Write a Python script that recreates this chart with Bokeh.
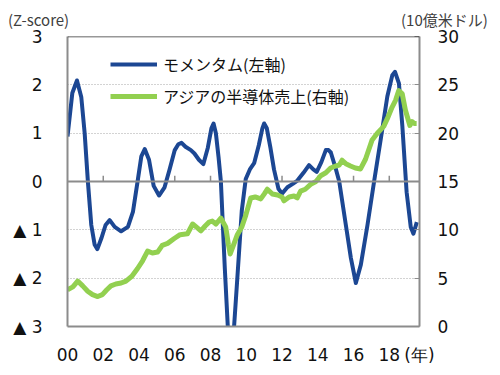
from bokeh.plotting import figure
from bokeh.models import Range1d, LinearAxis, FixedTicker, Span, Legend, LegendItem, Div
from bokeh.layouts import column
from bokeh.embed import file_html
from bokeh.resources import INLINE

# ---- data ----
years_tick = [2000, 2002, 2004, 2006, 2008, 2010, 2012, 2014, 2016, 2018]
year_labels = ["00", "02", "04", "06", "08", "10", "12", "14", "16", "18"]
x_end = 2019.69
x_unit_label = "(年)"
left_ticks = [-3, -2, -1, 0, 1, 2, 3]
left_labels = ["▲ 3", "▲ 2", "▲ 1", "0", "1", "2", "3"]
right_ticks = [0, 5, 10, 15, 20, 25, 30]
left_unit = "(Z-score)"
right_unit = "(10億米ドル)"

mom_x = [2000.0, 2000.27, 2000.53, 2000.77, 2000.96, 2001.14, 2001.33, 2001.52, 2001.67, 2001.89,
         2002.13, 2002.36, 2002.64, 2003.0, 2003.38, 2003.66, 2003.94, 2004.13, 2004.32, 2004.56,
         2004.82, 2005.12, 2005.43, 2005.71, 2006.0, 2006.2, 2006.38, 2006.6, 2006.9, 2007.1,
         2007.35, 2007.6, 2007.85, 2008.05, 2008.17, 2008.3, 2008.45, 2008.58, 2008.8, 2008.98,
         2009.13, 2009.3, 2009.5, 2009.75, 2009.97, 2010.2, 2010.44, 2010.7, 2010.9, 2011.0,
         2011.15, 2011.35, 2011.55, 2011.8, 2012.0, 2012.3, 2012.6, 2012.86, 2013.2, 2013.51,
         2013.75, 2013.94, 2014.2, 2014.45, 2014.6, 2014.73, 2015.01, 2015.2, 2015.57, 2015.85,
         2016.13, 2016.41, 2016.78, 2017.15, 2017.52, 2017.89, 2018.17, 2018.32, 2018.54, 2018.73,
         2018.97, 2019.2, 2019.35, 2019.54]
mom_y = [0.93, 1.83, 2.09, 1.75, 1.0, 0.0, -0.9, -1.31, -1.40, -1.18,
         -0.9, -0.80, -0.94, -1.03, -0.94, -0.63, 0.05, 0.52, 0.67, 0.45,
         -0.09, -0.29, -0.12, 0.25, 0.65, 0.77, 0.80, 0.72, 0.65, 0.58,
         0.45, 0.36, 0.70, 1.1, 1.20, 1.0, 0.5, 0.0, -1.8, -3.1,
         -3.3, -3.1, -2.0, -0.6, 0.05, 0.25, 0.38, 0.75, 1.1, 1.20,
         1.1, 0.7, 0.25, -0.15, -0.25, -0.12, -0.05, 0.02, 0.18, 0.34,
         0.25, 0.2, 0.4, 0.65, 0.65, 0.6, 0.26, 0.0, -0.9, -1.58,
         -2.1, -1.72, -0.9, 0.0, 0.87, 1.76, 2.2, 2.27, 2.03, 1.15,
         -0.22, -0.94, -1.08, -0.84]

semi_x = [2000.0, 2000.3, 2000.57, 2000.85, 2001.13, 2001.4, 2001.69, 2001.95, 2002.2, 2002.43,
          2002.7, 2003.0, 2003.27, 2003.6, 2003.92, 2004.2, 2004.48, 2004.75, 2005.04, 2005.3,
          2005.6, 2005.97, 2006.3, 2006.71, 2007.0, 2007.2, 2007.46, 2007.7, 2007.92, 2008.1,
          2008.3, 2008.58, 2008.85, 2009.0, 2009.1, 2009.3, 2009.5, 2009.75, 2009.97, 2010.25,
          2010.5, 2010.81, 2011.0, 2011.18, 2011.46, 2011.75, 2012.0, 2012.11, 2012.4, 2012.67,
          2012.85, 2013.04, 2013.3, 2013.6, 2013.9, 2014.16, 2014.45, 2014.72, 2015.0, 2015.2,
          2015.36, 2015.6, 2015.83, 2016.1, 2016.39, 2016.67, 2017.04, 2017.33, 2017.69, 2017.89,
          2018.16, 2018.35, 2018.53, 2018.72, 2018.9, 2019.15, 2019.28, 2019.4, 2019.53]
semi_y = [3.8, 4.1, 4.7, 4.2, 3.65, 3.3, 3.1, 3.3, 3.8, 4.2,
          4.4, 4.5, 4.7, 5.2, 6.0, 6.8, 7.8, 7.6, 7.7, 8.4,
          8.6, 9.1, 9.5, 9.6, 10.6, 10.3, 9.9, 10.4, 10.8, 10.9,
          10.6, 11.2, 10.3, 8.5, 7.5, 8.5, 9.5, 10.3, 11.5, 13.3,
          13.4, 13.2, 13.7, 14.2, 13.7, 13.6, 13.4, 13.0, 13.4, 13.5,
          13.3, 14.0, 14.2, 14.7, 15.0, 15.6, 15.9, 16.4, 16.6, 16.7,
          17.2, 16.8, 16.6, 16.4, 16.3, 17.3, 19.3, 20.0, 20.7, 21.5,
          22.7, 23.4, 24.4, 24.1, 22.4, 20.8, 21.2, 21.0, 21.0]

BLUE = "#1c4793"
GREEN = "#92d050"
NUM_FONT = "DejaVu Sans"
JP_FONT = "Noto Sans CJK JP"
W = 492
HEAD_H = 26

# ---- header with the unit captions ----
cap_style = ("position:absolute;top:11px;font-family:'Noto Sans CJK JP';font-size:15px;"
             "line-height:17px;color:#404040;white-space:nowrap;")
head = Div(width=W, height=HEAD_H, margin=0,
           text=(f'<div style="position:relative;width:{W}px;height:{HEAD_H}px;overflow:visible;">'
                 f'<span style="{cap_style}left:8px;">{left_unit}</span>'
                 f'<span style="{cap_style}left:401px;">{right_unit}</span></div>'))

# ---- main chart ----
p = figure(width=W, height=367 - HEAD_H, output_backend="svg", toolbar_location=None,
           x_range=Range1d(2000, x_end), y_range=Range1d(-3, 3),
           min_border_left=67, min_border_right=73, min_border_top=36 - HEAD_H,
           min_border_bottom=38)
p.extra_y_ranges = {"right": Range1d(0, 30)}
p.outline_line_color = None
p.border_fill_alpha = 0

xa = p.xaxis[0]
xa.ticker = FixedTicker(ticks=years_tick + [x_end])
overrides = {t: l for t, l in zip(years_tick, year_labels)}
overrides[x_end] = x_unit_label
xa.major_label_overrides = overrides
xa.major_tick_line_color = None
xa.minor_tick_line_color = None
xa.axis_line_color = "#8c8c8c"
xa.axis_line_width = 2
xa.major_label_standoff = 12
xa.major_label_text_font = NUM_FONT
xa.major_label_text_font_size = "17px"
xa.major_label_text_color = "#111111"

ya = p.yaxis[0]
ya.ticker = FixedTicker(ticks=left_ticks)
ya.major_label_overrides = {t: l for t, l in zip(left_ticks, left_labels)}
ya.major_tick_line_color = None
ya.minor_tick_line_color = None
ya.axis_line_color = "#8c8c8c"
ya.axis_line_width = 2
ya.major_label_standoff = 19
ya.major_label_text_font = NUM_FONT
ya.major_label_text_font_size = "17px"
ya.major_label_text_color = "#111111"

ra = LinearAxis(y_range_name="right", ticker=FixedTicker(ticks=right_ticks))
ra.major_tick_in = 5
ra.major_tick_out = 0
ra.major_tick_line_color = "#8c8c8c"
ra.minor_tick_line_color = None
ra.axis_line_color = "#8c8c8c"
ra.axis_line_width = 2
ra.major_label_standoff = 18
ra.major_label_text_font = NUM_FONT
ra.major_label_text_font_size = "17px"
ra.major_label_text_color = "#111111"
p.add_layout(ra, "right")

p.xgrid.grid_line_color = None
p.ygrid.ticker = FixedTicker(ticks=left_ticks)
p.ygrid.grid_line_color = "#a6a6a6"
p.ygrid.grid_line_dash = "1 2"
p.ygrid.grid_line_width = 1

p.add_layout(Span(location=3, dimension="width", line_color="#333333", line_width=1.5))
p.add_layout(Span(location=0, dimension="width", line_color="#8c8c8c", line_width=2))
p.segment(x0=years_tick[1:], y0=[0] * (len(years_tick) - 1),
          x1=years_tick[1:], y1=[0.12] * (len(years_tick) - 1),
          line_color="#8c8c8c", line_width=1.5)

r1 = p.line(mom_x, mom_y, line_color=BLUE, line_width=4, line_join="round")
r2 = p.line(semi_x, semi_y, line_color=GREEN, line_width=5, line_join="round",
            y_range_name="right")

legend = Legend(items=[LegendItem(label="モメンタム(左軸)", renderers=[r1]),
                       LegendItem(label="アジアの半導体売上(右軸)", renderers=[r2])],
                location=(43, 218), padding=0, margin=0, spacing=8,
                glyph_width=47, glyph_height=20, label_height=20, label_standoff=6,
                label_text_font=JP_FONT, label_text_font_size="16px",
                label_text_color="#111111",
                border_line_color=None, background_fill_alpha=0)
p.add_layout(legend)

layout = column(head, p, spacing=0)
open("out.html", "w").write(file_html(layout, INLINE))
